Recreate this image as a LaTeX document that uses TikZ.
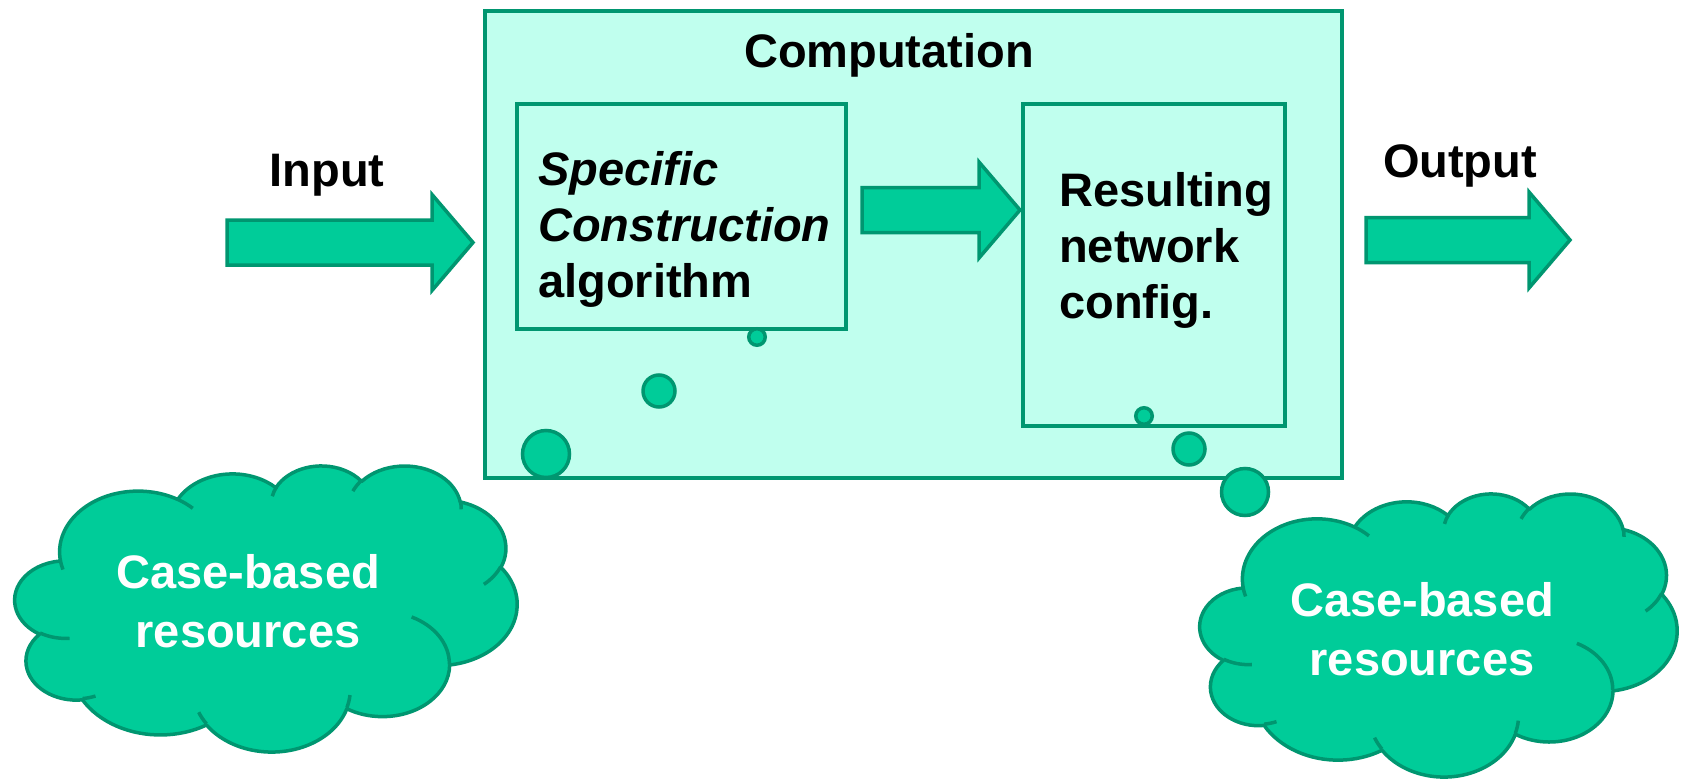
\documentclass[tikz,border=0pt]{standalone}
\usepackage{fontspec}
\setmainfont{Liberation Sans}
\usetikzlibrary{positioning}
\definecolor{mint}{RGB}{0,204,153}
\definecolor{mintdark}{RGB}{0,150,112}
\definecolor{mintlight}{RGB}{192,255,238}

\newcommand{\casecloud}[4]{%
  \begin{scope}[shift={(#1,#2)}, x=#3pt, y=-#4pt]
    \draw[cloudline, fill=mint] (39.00,143.70)
      arc[start angle=-187.74, end angle=-59.63, x radius=67.53, y radius=91.90]
      arc[start angle=-152.02, end angle=-45.45, x radius=53.33, y radius=72.67]
      arc[start angle=-153.49, end angle=-37.32, x radius=43.65, y radius=59.45]
      arc[start angle=-139.71, end angle=-10.21, x radius=48.57, y radius=65.95]
      arc[start angle=-74.77, end angle=23.21, x radius=53.33, y radius=72.73]
      arc[start angle=-37.53, end angle=81.86, x radius=67.75, y radius=92.20]
      arc[start angle=0.46, end angle=121.98, x radius=57.85, y radius=78.67]
      arc[start angle=16.84, end angle=146.21, x radius=67.52, y radius=92.15]
      arc[start angle=58.98, end angle=150.19, x radius=77.20, y radius=105.43]
      arc[start angle=83.31, end angle=223.10, x radius=43.60, y radius=59.18]
      arc[start angle=120.36, end angle=264.11, x radius=43.45, y radius=59.45]
      -- cycle;
    \draw[cloudline]
      (46.93,261.77) arc[start angle=85.55, end angle=120.36, x radius=43.45, y radius=59.45]
      (69.28,348.99) arc[start angle=68.23, end angle=83.31, x radius=43.60, y radius=59.18]
      (164.78,390.90) arc[start angle=146.21, end angle=158.47, x radius=67.52, y radius=92.15]
      (288.27,347.51) arc[start angle=4.74, end angle=16.84, x radius=67.52, y radius=92.15]
      (341.29,229.54) arc[start angle=-64.03, end angle=0.46, x radius=57.85, y radius=78.67]
      (417.98,153.54) arc[start angle=23.21, end angle=49.64, x radius=53.33, y radius=72.73]
      (383.24,54.26) arc[start angle=-10.21, end angle=0.82, x radius=48.57, y radius=65.95]
      (290.78,39.52) arc[start angle=-156.29, end angle=-139.71, x radius=48.57, y radius=65.95]
      (221.41,47.20) arc[start angle=-167.73, end angle=-153.49, x radius=43.65, y radius=59.45]
      (140.00,51.92) arc[start angle=-59.63, end angle=-45.72, x radius=67.53, y radius=91.90]
      (41.27,157.89) arc[start angle=163.19, end angle=172.26, x radius=67.53, y radius=91.90];
  \end{scope}}

\begin{document}
\begin{tikzpicture}[x=1pt, y=-1pt,
    every node/.style={font=\fontsize{47}{56}\selectfont\bfseries},
    panel/.style={rectangle, draw=mintdark, line width=3.5pt, fill=mintlight, inner sep=0pt},
    bubble/.style={circle, draw=mintdark, line width=3.5pt, fill=mint, inner sep=0pt},
    blockarrow/.style={draw=mintdark, line width=3.5pt, fill=mint, line join=miter},
    cloudline/.style={draw=mintdark, line width=3.5pt, line join=round},
    headtext/.style={anchor=base, inner sep=0pt},
    bodytext/.style={anchor=base west, align=left, inner sep=0pt},
    cloudtext/.style={anchor=base, align=center, inner sep=0pt, text=white,
      font=\fontsize{47}{59}\selectfont\bfseries}]
  \useasboundingbox (0,0) rectangle (1683,779);

  \node[panel, minimum width=857pt, minimum height=467pt] (comp) at (913.5,244.5) {};
  \node[panel, minimum width=329pt, minimum height=225pt] (algo) at (681.5,216.5) {};
  \node[panel, minimum width=262pt, minimum height=322pt] (config) at (1154,265) {};

  \node[headtext] (comptitle) at (889,67) {Computation};
  \node[headtext] (intitle) at (327,186) {Input};
  \node[headtext] (outtitle) at (1460,177) {Output};
  \node[bodytext] (algotext) at (538,297) {\textit{Specific}\\\textit{Construction}\\algorithm};
  \node[bodytext] (configtext) at (1059,318) {Resulting\\network\\config.};

  \node[bubble, minimum size=16.5pt] (d1) at (757,337) {};
  \node[bubble, minimum size=32pt] (d2) at (659,391) {};
  \node[bubble, minimum size=47pt] (d3) at (546,454) {};
  \node[bubble, minimum size=16.5pt] (d4) at (1144,416) {};
  \node[bubble, minimum size=32pt] (d5) at (1189,449) {};
  \node[bubble, minimum size=47pt] (d6) at (1245,492) {};

  \foreach \l/\b/\t/\y in {227/432/473/242.5, 862/979/1020/210, 1366/1529/1570/240}
    \draw[blockarrow] (\l,\y-22.5) -- (\b,\y-22.5) -- (\b,\y-48) -- (\t,\y)
      -- (\b,\y+48) -- (\b,\y+22.5) -- (\l,\y+22.5) -- cycle;

  \casecloud{15}{465}{1.1620}{0.6620}
  \casecloud{1200}{493}{1.1042}{0.6551}
  \node[cloudtext] (res1) at (248,647) {Case-based\\resources};
  \node[cloudtext] (res2) at (1422,675) {Case-based\\resources};
\end{tikzpicture}
\end{document}
